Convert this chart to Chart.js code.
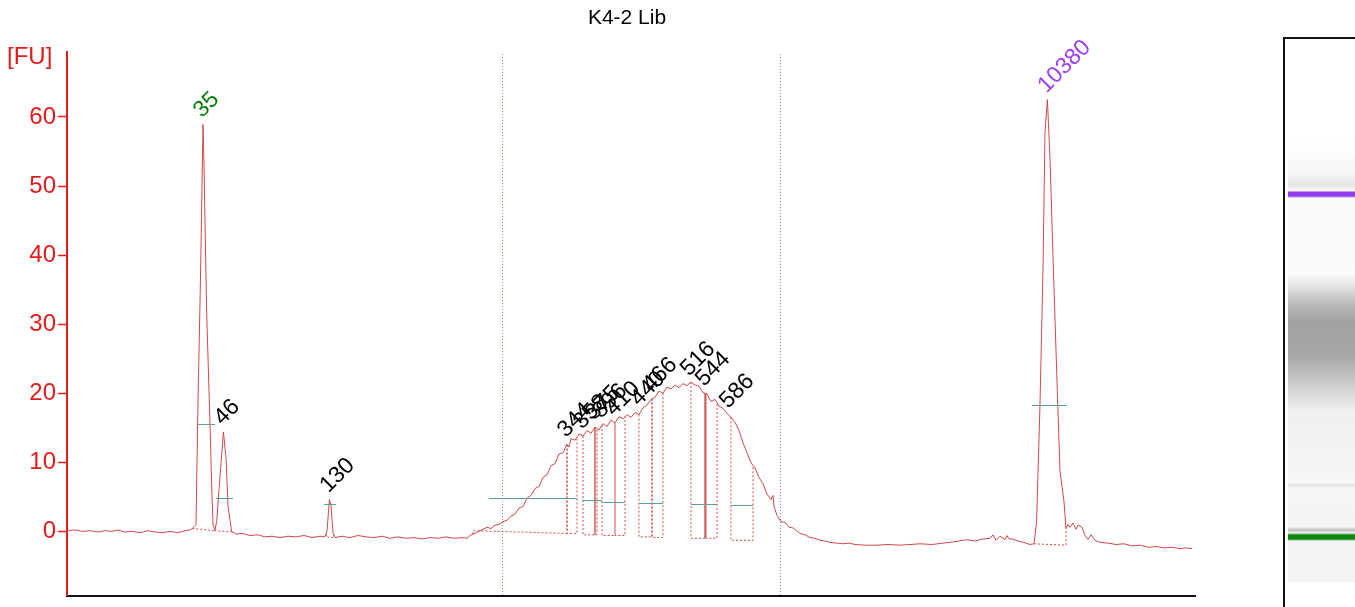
<!DOCTYPE html>
<html>
<head>
<meta charset="utf-8">
<script src="https://cdn.jsdelivr.net/npm/chart.js@4"></script>
<style>
  html, body { margin: 0; padding: 0; background: #fff; overflow: hidden; }
  #wrap { position: relative; width: 1355px; height: 607px; overflow: hidden; }
  #chart { position: absolute; left: 0; top: 0; }
  #gel {
    position: absolute; left: 1283px; top: 37px; width: 72px; height: 570px;
    border-left: 2px solid #111; border-top: 2px solid #111; box-sizing: border-box;
  }
  #lane {
    position: absolute; left: 3px; top: 104px; width: 68px; height: 439px;
    background: linear-gradient(to bottom,
      #ffffff 0px, #f6f6f6 30px, #e4e4e4 42px, #f8f8f8 48px,
      #8f3cf0 49px, #8f3cf0 53px, #fafafa 55px, #fbfbfb 130px,
      #e6e6e6 142px, #b8b8b8 162px, #a2a2a2 180px, #a6a6a6 212px,
      #c8c8c8 238px, #f0f0f0 268px, #f6f6f6 340px,
      #e2e2e2 342px, #f6f6f6 345px, #f4f4f4 384px,
      #bdbdbd 387px, #f0f0f0 390px, #0c860c 392px, #0c860c 396px,
      #f3f3f3 398px, #f3f3f3 439px);
  }
</style>
</head>
<body>
<div id="wrap">
  <canvas id="chart" width="1355" height="612"></canvas>
  <div id="gel"><div id="lane"></div></div>
</div>
<script>
// electropherogram trace: migration time (s) and fluorescence (FU)
const traceTime = [20.0, 20.4, 20.75, 21.15, 21.55, 21.9, 22.25, 22.55, 22.9, 23.25, 23.65, 24.05, 24.4, 24.75, 25.15, 25.55, 25.9, 26.15,
  26.3, 26.45, 26.55, 26.65, 26.7, 26.8, 26.85, 26.98, 27.15, 27.23, 27.3, 27.4,
  27.49, 27.6, 27.73, 27.82, 27.95, 28.05, 28.23,
  28.45, 28.75, 29.15, 29.55, 29.9, 30.25, 30.65, 31.05, 31.45, 31.85, 32.25, 32.65, 32.9,
  33.0, 33.12, 33.2, 33.3, 33.4,
  33.75, 34.15, 34.55, 34.95, 35.35, 35.75, 36.15, 36.55, 36.95, 37.35, 37.75, 38.15, 38.55, 38.95, 39.35, 39.75, 40.0,
  40.15, 40.45, 40.8, 41.0, 41.2, 41.4, 41.6, 41.8, 42.0, 42.2, 42.4, 42.6, 42.8, 43.0, 43.2, 43.4, 43.6, 43.8,
  44.0, 44.2, 44.4, 44.6, 44.8, 45.0, 45.1, 45.2, 45.4, 45.6, 45.8, 46.0, 46.2, 46.4, 46.6, 46.8, 47.0, 47.2,
  47.4, 47.6, 47.8, 48.0, 48.2, 48.4, 48.6, 48.8, 49.0, 49.2, 49.4, 49.6, 49.8, 50.0, 50.2, 50.4, 50.6, 50.8,
  51.0, 51.2, 51.4, 51.6, 51.8, 52.0, 52.2, 52.4, 52.6, 52.8, 53.0, 53.2, 53.4, 53.6, 53.8, 54.0, 54.2, 54.4,
  54.6, 54.8, 55.0, 55.2, 55.3, 55.35, 55.5, 55.7, 55.9, 56.1, 56.3, 56.65,
  56.9, 57.15, 57.4, 57.65, 57.9, 58.15, 58.5, 58.8, 59.1, 59.4, 59.9, 60.5, 61.05, 61.65, 62.15, 62.65, 63.25,
  63.8, 64.4, 65.0, 65.4, 65.8, 66.15, 66.3, 66.45, 66.65, 66.9, 67.0, 67.1, 67.25, 67.55, 67.85, 68.15, 68.35,
  68.48, 68.65, 68.8, 68.9, 69.02, 69.15, 69.32, 69.48, 69.65, 69.85, 69.95,
  70.05, 70.15, 70.3, 70.45, 70.55, 70.75, 70.9, 71.05, 71.2, 71.4, 71.65, 72.05, 72.45, 72.85, 73.25,
  73.65, 74.05, 74.45, 74.85, 75.25, 75.65, 75.95, 76.25];
const traceFU = [0.1, 0.2, 0.0, 0.1, -0.1, 0.1, 0.0, 0.2, -0.1, 0.0, -0.2, 0.1, -0.1, -0.2, 0.0, -0.2, 0.1, 0.2,
  0.5, 1.0, 19, 33, 41, 58.9, 53, 32, 15.5, 7, 1, 0.2,
  1.6, 6, 11, 14.4, 10.7, 3.7, 0.0,
  -0.4, -0.3, -0.6, -0.5, -0.8, -0.7, -0.9, -0.7, -0.8, -0.6, -0.9, -0.7, -0.8,
  0.0, 4.6, 3.8, -0.2, -0.9,
  -0.7, -0.9, -0.6, -0.8, -0.9, -0.7, -1.0, -0.8, -1.0, -0.9, -1.1, -0.9, -1.0, -0.8, -1.0, -0.9, -1.0,
  -0.6, -0.2, 0.3, 0.6, 0.4, 0.9, 1.0, 1.4, 1.6, 2.2, 2.5, 3.4, 3.6, 4.8, 5.2, 6.2, 6.5, 7.8,
  8.2, 9.5, 9.8, 11.2, 11.4, 12.6, 12.2, 13.4, 13.2, 14.1, 13.8, 14.6, 14.2, 15.1, 14.7, 15.6, 15.2, 16.1,
  15.7, 16.6, 16.3, 16.9, 16.5, 17.2, 16.9, 17.9, 18.3, 19.1, 19.4, 20.3, 20.0, 20.9, 20.6, 21.2, 20.8, 21.4,
  21.1, 21.6, 21.2, 21.0, 20.1, 19.9, 18.8, 19.1, 18.1, 17.8, 17.1, 16.5, 15.8, 14.6, 12.8, 11.4, 9.9, 9.2,
  7.8, 6.9, 5.4, 4.6, 5.2, 3.6, 2.3, 1.4, 1.3, 0.6, 0.5, -0.3,
  -0.5, -0.9, -1.0, -1.3, -1.4, -1.6, -1.7, -1.8, -1.7, -1.9, -2.0, -2.0, -1.9, -2.0, -1.9, -1.8, -1.9,
  -1.7, -1.5, -1.2, -1.4, -1.1, -1.0, -0.5, -1.3, -0.7, -1.2, -0.6, -1.1, -1.1, -1.4, -1.6, -1.9, -1.8,
  1.4, 18.5, 38, 57.8, 62.5, 54, 38, 23.5, 8.7, 4.3, 0.4,
  1.0, 0.6, 1.2, 0.3, 0.9, 0.6, -0.6, -1.2, -0.5, -1.3, -1.6, -1.7, -1.9, -1.8, -2.1,
  -2.0, -2.3, -2.2, -2.4, -2.3, -2.5, -2.4, -2.5];

// called peaks (size in bp)
const peakLabel = ['35', '46', '130', '344', '358', '375', '396', '410', '440', '466', '516', '544', '586', '10380'];
const peakTime  = [26.8, 27.82, 33.12, 45.0, 45.8, 46.4, 46.75, 47.4, 48.65, 49.25, 51.15, 51.9, 53.1, 69.02];
const peakColor = ['#0a7d0a', '#000', '#000', '#000', '#000', '#000', '#000', '#000', '#000', '#000', '#000', '#000', '#000', '#a040f0'];

// integration regions (dotted boxes): start, end, baseline at start / end
const regionStart = [26.3, 27.4, 32.95, 40.3, 45.0, 45.8, 46.75, 47.4, 48.6, 49.25, 51.2, 51.95, 53.2, 68.35];
const regionEnd   = [27.4, 28.23, 33.35, 45.0, 45.5, 46.5, 47.4, 47.9, 49.25, 49.8, 51.95, 52.5, 54.3, 69.95];
const regionBase0 = [0.4, 0.1, -0.8, 0.1, -0.3, -0.5, -0.6, -0.6, -0.8, -0.9, -1.0, -1.0, -1.3, -1.8];
const regionBase1 = [0.1, -0.1, -0.9, -0.3, -0.3, -0.5, -0.6, -0.6, -0.8, -0.9, -1.0, -1.0, -1.3, -2.0];

// peak width markers
const widthStart = [26.5, 27.45, 32.85, 41.1, 45.75, 46.75, 48.6, 51.2, 53.2, 68.25];
const widthEnd   = [27.4, 28.3, 33.45, 45.5, 46.75, 47.9, 49.8, 52.5, 54.3, 70.0];
const widthFU    = [15.5, 4.8, 4.0, 4.8, 4.5, 4.3, 4.1, 3.9, 3.8, 18.3];

const solidTimes = [46.4, 51.9];
const solidBase  = [-0.5, -1.0];
const windowTimes = [41.75, 55.65];

const red = '#e41b1b';
const traceColor = '#cc4a4a';

function traceAt(t) {
  for (let i = 1; i < traceTime.length; i++) {
    if (traceTime[i] >= t) {
      const f = (t - traceTime[i - 1]) / (traceTime[i] - traceTime[i - 1]);
      return traceFU[i - 1] + f * (traceFU[i] - traceFU[i - 1]);
    }
  }
  return traceFU[traceFU.length - 1];
}

const decor = {
  id: 'decor',
  beforeDatasetsDraw(chart) {
    const ctx = chart.ctx, xs = chart.scales.x, a = chart.chartArea;
    ctx.save();
    ctx.strokeStyle = '#8a8ae0';
    ctx.lineWidth = 1;
    ctx.setLineDash([1, 2]);
    windowTimes.forEach(t => {
      const x = Math.round(xs.getPixelForValue(t)) + 0.5;
      ctx.beginPath(); ctx.moveTo(x, a.top + 2); ctx.lineTo(x, a.bottom); ctx.stroke();
    });
    ctx.restore();
  },
  afterDatasetsDraw(chart) {
    const ctx = chart.ctx, xs = chart.scales.x, ys = chart.scales.y;
    ctx.save();
    // dotted integration boxes
    ctx.strokeStyle = '#d84848';
    ctx.lineWidth = 1;
    ctx.setLineDash([2, 2]);
    regionStart.forEach((s, i) => {
      const e = regionEnd[i];
      const x0 = xs.getPixelForValue(s), x1 = xs.getPixelForValue(e);
      const b0 = ys.getPixelForValue(regionBase0[i]), b1 = ys.getPixelForValue(regionBase1[i]);
      ctx.beginPath();
      ctx.moveTo(x0, ys.getPixelForValue(traceAt(s)));
      ctx.lineTo(x0, b0);
      ctx.lineTo(x1, b1);
      ctx.lineTo(x1, ys.getPixelForValue(traceAt(e)));
      ctx.stroke();
    });
    // solid peak lines
    ctx.setLineDash([]);
    ctx.strokeStyle = '#d04040';
    ctx.lineWidth = 1.3;
    solidTimes.forEach((t, i) => {
      const x = xs.getPixelForValue(t);
      ctx.beginPath();
      ctx.moveTo(x, ys.getPixelForValue(traceAt(t)));
      ctx.lineTo(x, ys.getPixelForValue(solidBase[i]));
      ctx.stroke();
    });
    // width markers
    ctx.strokeStyle = '#5f9f9a';
    ctx.lineWidth = 1;
    widthStart.forEach((s, i) => {
      const y = Math.round(ys.getPixelForValue(widthFU[i])) + 0.5;
      ctx.beginPath();
      ctx.moveTo(xs.getPixelForValue(s), y);
      ctx.lineTo(xs.getPixelForValue(widthEnd[i]), y);
      ctx.stroke();
    });
    // peak labels
    ctx.font = '23px "Liberation Sans", Arial, sans-serif';
    ctx.textAlign = 'left';
    ctx.textBaseline = 'alphabetic';
    peakLabel.forEach((lab, i) => {
      const x = xs.getPixelForValue(peakTime[i]);
      const y = ys.getPixelForValue(traceAt(peakTime[i]));
      ctx.save();
      ctx.translate(x - 1, y - 6);
      ctx.rotate(-Math.PI / 4);
      ctx.fillStyle = peakColor[i];
      ctx.fillText(lab, 0, 0);
      ctx.restore();
    });
    // title and unit
    ctx.fillStyle = '#000';
    ctx.font = '21px "Liberation Sans", Arial, sans-serif';
    ctx.textAlign = 'center';
    ctx.fillText('K4-2 Lib', 627, 24);
    ctx.fillStyle = red;
    ctx.font = '24px "Liberation Sans", Arial, sans-serif';
    ctx.textAlign = 'left';
    ctx.fillText('[FU]', 7, 64);
    ctx.restore();
  }
};

new Chart(document.getElementById('chart'), {
  type: 'line',
  data: {
    datasets: [{
      data: traceTime.map((t, i) => ({ x: t, y: traceFU[i] })),
      borderColor: traceColor,
      borderWidth: 1,
      pointRadius: 0,
      tension: 0,
      fill: false
    }]
  },
  options: {
    responsive: false,
    animation: false,
    layout: { padding: { top: 52, right: 160, bottom: 5, left: 0 } },
    plugins: { legend: { display: false }, tooltip: { enabled: false }, title: { display: false } },
    scales: {
      x: {
        type: 'linear', min: 20, max: 76.4,
        ticks: { display: false },
        grid: { display: false },
        border: { color: '#111', width: 2 },
        afterFit: s => { s.height = 2; }
      },
      y: {
        min: -9.3, max: 69.4,
        ticks: {
          stepSize: 10, includeBounds: false, color: red, padding: 2,
          font: { size: 24, family: '"Liberation Sans", Arial, sans-serif' }
        },
        grid: { drawOnChartArea: false, drawTicks: true, tickLength: 9, color: red, tickWidth: 1.5 },
        border: { color: red, width: 2 },
        afterFit: s => { s.width = 67; }
      }
    }
  },
  plugins: [decor]
});
</script>
</body>
</html>
